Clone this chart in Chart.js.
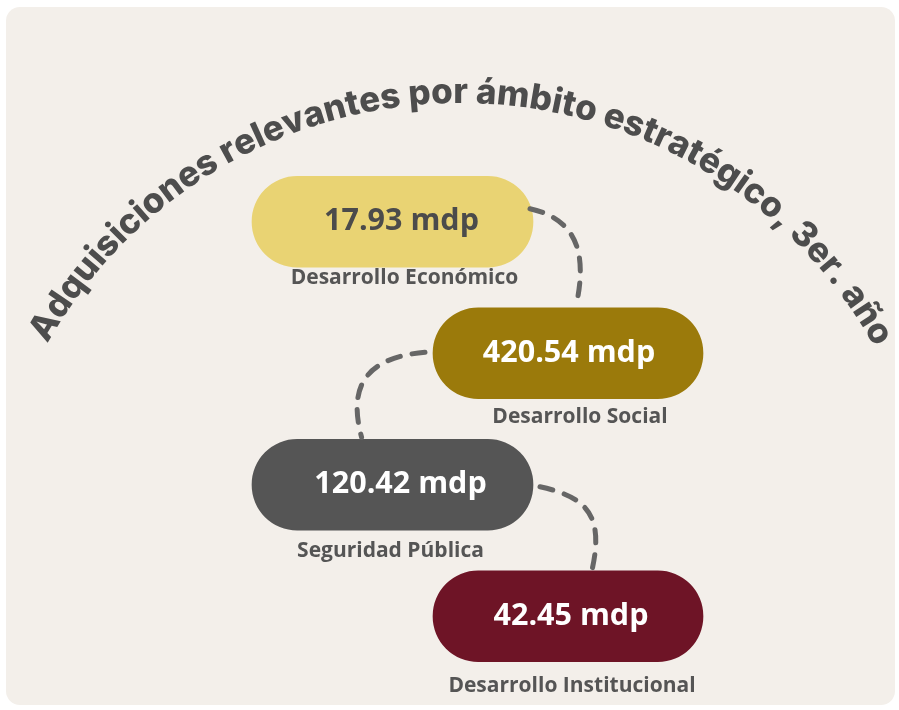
<!DOCTYPE html>
<html>
<head>
<meta charset="utf-8">
<script src="https://cdn.jsdelivr.net/npm/chart.js@4/dist/chart.umd.min.js"></script>
<style>
  html,body{margin:0;padding:0;background:#ffffff;}
  #card{position:absolute;left:6px;top:7px;width:889px;height:698px;background:#f3efea;border-radius:14px;}
  #wrap{position:absolute;left:0;top:0;width:899px;height:710px;}
</style>
</head>
<body>
<div id="card"></div>
<div id="wrap"><canvas id="c" width="899" height="710"></canvas></div>
<script>
// ---- data ----
const categories = ["Desarrollo Económico", "Desarrollo Social", "Seguridad Pública", "Desarrollo Institucional"];
const amounts = [17.93, 420.54, 120.42, 42.45];
const unit = "mdp";
const titleText = "Adquisiciones relevantes por ámbito estratégico, 3er. año";

// ---- styles / layout ----
const pillColors = ["#e9d373", "#9b7a0b", "#555555", "#6e1426"];
const valueColors = ["#4b4b4b", "#ffffff", "#ffffff", "#ffffff"];
const spanLeft = [252, 533];
const spanRight = [433, 703];
const spans = categories.map((c, i) => (i % 2 === 0 ? spanLeft : spanRight));
const valueDx = [9, 1, 8, 3];
const labelDx = [12, 12, -2, 4];
const labelDy = [11, 18, 21, 24];
const connectorEnd = [0.53, 0.39, 0.59];

const pillText = {
  id: 'pillText',
  afterDatasetsDraw(chart) {
    const ctx = chart.ctx;
    const meta = chart.getDatasetMeta(0);
    // connectors
    ctx.save();
    ctx.strokeStyle = '#666666';
    ctx.lineWidth = 5;
    ctx.lineCap = 'round';
    ctx.setLineDash([13, 12]);
    for (let i = 0; i < meta.data.length - 1; i++) {
      const a = meta.data[i], b = meta.data[i + 1];
      const bh = b.height / 2;
      const ex = b.base + (b.x - b.base) * connectorEnd[i], ey = b.y - bh - 2;
      ctx.beginPath();
      if (i % 2 === 0) {
        const sx = a.x + (i === 0 ? -3 : 7), sy = a.y + (i === 0 ? -13 : 2);
        ctx.moveTo(sx, sy);
        ctx.bezierCurveTo(sx + 45, sy + 10, ex + 12, ey - 55, ex, ey);
      } else {
        const sx = a.base - 8, sy = a.y - 1;
        ctx.moveTo(sx, sy);
        ctx.bezierCurveTo(sx - 55, sy + 5, ex - 15, ey - 55, ex, ey);
      }
      ctx.stroke();
    }
    ctx.restore();
    ctx.save();
    ctx.textAlign = 'center';
    ctx.textBaseline = 'middle';
    meta.data.forEach((el, i) => {
      const cx = (el.x + el.base) / 2;
      ctx.fillStyle = valueColors[i];
      ctx.font = 'bold 30.5px "Open Sans"';
      ctx.fillText(amounts[i].toFixed(2) + ' ' + unit, cx + valueDx[i], el.y);
      ctx.fillStyle = '#555555';
      ctx.font = 'bold 21px "Open Sans"';
      ctx.fillText(categories[i], cx + labelDx[i], el.y + el.height / 2 + labelDy[i]);
    });
    ctx.restore();
  }
};

const arcTitle = {
  id: 'arcTitle',
  afterDraw(chart) {
    const ctx = chart.ctx;
    const cx = 460, cy = 577, r = 474;
    const startA = -150.5 * Math.PI / 180, endA = -29.8 * Math.PI / 180;
    ctx.save();
    let size = 33;
    ctx.font = '800 ' + size + 'px Inter';
    const natural = ctx.measureText(titleText).width;
    const arcLen = r * (endA - startA);
    size = size * arcLen / natural;
    ctx.font = '800 ' + size.toFixed(2) + 'px Inter';
    ctx.fillStyle = '#4d4d4d';
    ctx.textAlign = 'center';
    ctx.textBaseline = 'alphabetic';
    const total = ctx.measureText(titleText).width;
    let pos = 0;
    for (const ch of titleText) {
      const w = ctx.measureText(ch).width;
      const ang = startA + (pos + w / 2) / total * (endA - startA);
      ctx.save();
      ctx.translate(cx + r * Math.cos(ang), cy + r * Math.sin(ang));
      ctx.rotate(ang + Math.PI / 2);
      ctx.fillText(ch, 0, 0);
      ctx.restore();
      pos += w;
    }
    ctx.restore();
  }
};

new Chart(document.getElementById('c'), {
  type: 'bar',
  data: {
    labels: categories,
    datasets: [{
      data: spans,
      backgroundColor: pillColors,
      borderRadius: 46,
      borderSkipped: false,
      barThickness: 91
    }]
  },
  options: {
    indexAxis: 'y',
    responsive: false,
    animation: false,
    layout: { padding: { top: 156, bottom: 28, left: 0, right: 0 } },
    scales: {
      x: { type: 'linear', min: 0, max: 899, display: false },
      y: { display: false }
    },
    plugins: { legend: { display: false }, tooltip: { enabled: false }, title: { display: false } }
  },
  plugins: [pillText, arcTitle]
});
</script>
</body>
</html>
